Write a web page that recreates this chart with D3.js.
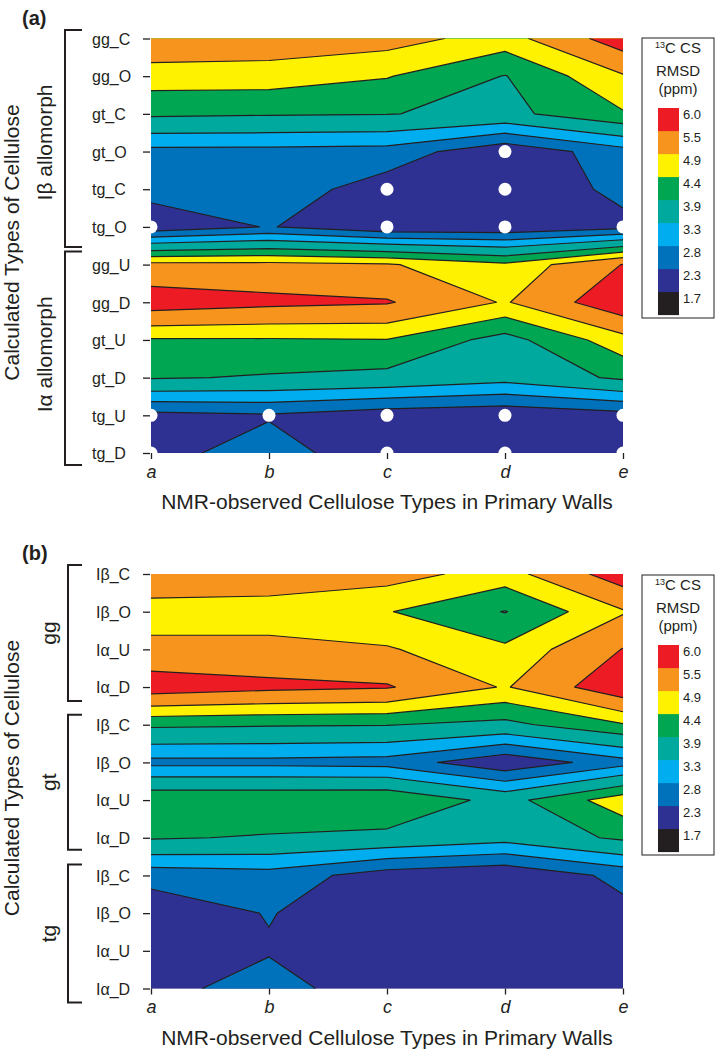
<!DOCTYPE html>
<html><head><meta charset="utf-8">
<script src="https://cdn.jsdelivr.net/npm/d3@7"></script>
<style>
body{margin:0;background:#fff}
svg{display:block}
text{font-family:"Liberation Sans",Arial,Helvetica,sans-serif;fill:#231f20}
</style>
</head><body>
<svg id="chart" width="716" height="1050"></svg>
<script>
// ---------------- DATA ----------------
const columns = ["a", "b", "c", "d", "e"];
// 13C chemical-shift RMSD (ppm) of each calculated cellulose type vs. observed types a..e
const gg_C = [5.35, 5.25, 5.12, 4.67, 5.83];
const gg_O = [4.65, 4.65, 4.43, 3.88, 4.85];
const gt_C = [4.00, 3.95, 3.92, 3.75, 4.35];
const gt_O = [2.65, 2.65, 2.60, 1.90, 2.60];
const tg_C = [2.49, 2.60, 2.04, 1.85, 2.45];
const tg_O = [1.96, 2.33, 1.90, 1.90, 2.15];
const gg_U = [5.05, 5.05, 4.95, 4.50, 5.52];
const gg_D = [5.83, 5.65, 5.55, 4.85, 5.95];
const gt_U = [4.35, 4.35, 4.38, 3.70, 4.70];
const gt_D = [3.95, 3.85, 3.75, 3.50, 4.00];
const tg_U = [2.15, 2.25, 2.00, 1.90, 2.10];
const tg_D = [2.10, 2.56, 1.90, 1.90, 2.10];

// row order (top to bottom) and tick labels for each panel
const rowsA = ["gg_C","gg_O","gt_C","gt_O","tg_C","tg_O","gg_U","gg_D","gt_U","gt_D","tg_U","tg_D"];
const labelsA = ["gg_C","gg_O","gt_C","gt_O","tg_C","tg_O","gg_U","gg_D","gt_U","gt_D","tg_U","tg_D"];
const rowsB = ["gg_C","gg_O","gg_U","gg_D","gt_C","gt_O","gt_U","gt_D","tg_C","tg_O","tg_U","tg_D"];
const labelsB = ["Iβ_C","Iβ_O","Iα_U","Iα_D","Iβ_C","Iβ_O","Iα_U","Iα_D","Iβ_C","Iβ_O","Iα_U","Iα_D"];
const groupsA = ["Iβ allomorph", "Iα allomorph"];
const groupsB = ["gg", "gt", "tg"];

// best-matching structures (white dots) in panel (a): [column, row]
const bestMatches = [["d","gt_O"],["c","tg_C"],["d","tg_C"],
  ["a","tg_O"],["c","tg_O"],["d","tg_O"],["e","tg_O"],
  ["a","tg_U"],["b","tg_U"],["c","tg_U"],["d","tg_U"],["e","tg_U"],
  ["a","tg_D"],["c","tg_D"],["d","tg_D"],["e","tg_D"]];

// colour scale (legend): labels and colours bottom->top
const levelLabels = [1.7, 2.3, 2.8, 3.3, 3.9, 4.4, 4.9, 5.5, 6.0];
const levelColors = ["#231f20","#2e3192","#0072bc","#00aeef","#00a99d","#00a651","#fff200","#f7941d","#ed1c24"];

const xTitle = "NMR-observed Cellulose Types in Primary Walls";
const yTitle = "Calculated Types of Cellulose";

// ---------------- DRAW ----------------
const series = {gg_C, gg_O, gt_C, gt_O, tg_C, tg_O, gg_U, gg_D, gt_U, gt_D, tg_U, tg_D};
const svg = d3.select("#chart");
const X0 = 151, X1 = 623, PH = 414.5;

function drawPanel(p) {
  const g = svg.append("g");
  const top = p.top, bottom = p.top + PH;
  const x = d3.scalePoint().domain(columns).range([X0, X1]);
  const y = d3.scalePoint().domain(p.rows).range([top, bottom]);
  const nx = columns.length, ny = p.rows.length;
  const gx = d3.scaleLinear().domain([0.5, nx - 0.5]).range([X0, X1]);
  const gy = d3.scaleLinear().domain([0.5, ny - 0.5]).range([top, bottom]);
  const values = p.rows.flatMap(r => series[r]);
  const levels = levelLabels.slice(0, levelLabels.length - 1);
  const contours = d3.contours().size([nx, ny]).thresholds(levels)(values);
  const path = d3.geoPath(d3.geoTransform({
    point(px, py) { this.stream.point(gx(px), gy(py)); }
  }));
  const clipId = "clip" + p.id;
  svg.append("clipPath").attr("id", clipId)
    .append("rect").attr("x", X0).attr("y", top).attr("width", X1 - X0).attr("height", PH);
  const plot = g.append("g").attr("clip-path", `url(#${clipId})`);
  plot.append("rect").attr("x", X0).attr("y", top).attr("width", X1 - X0).attr("height", PH)
    .attr("fill", levelColors[0]);
  plot.selectAll("path.fill").data(contours).join("path").attr("class", "fill")
    .attr("d", path).attr("fill", (d, i) => levelColors[i + 1]);
  plot.selectAll("path.line").data(contours).join("path").attr("class", "line")
    .attr("d", path).attr("fill", "none").attr("stroke", "#231f20")
    .attr("stroke-width", 1.2).attr("stroke-linejoin", "round");

  if (p.dots) {
    g.selectAll("circle.dot").data(p.dots).join("circle").attr("class", "dot")
      .attr("cx", d => x(d[0])).attr("cy", d => y(d[1])).attr("r", 6.5).attr("fill", "#fff");
  }

  // left axis
  const yAxis = g.append("g").attr("transform", `translate(${X0 - 1},0)`)
    .call(d3.axisLeft(y).tickSize(7).tickSizeOuter(0).tickFormat((d, i) => p.labels[i]));
  yAxis.select(".domain").remove();
  yAxis.selectAll("line").attr("stroke", "#231f20").attr("stroke-width", 1.3);
  yAxis.selectAll("text").attr("text-anchor", "start").attr("x", p.labelX - X0)
    .attr("dy", "0.36em").style("font-size", "16px").attr("fill", "#231f20");

  // bottom axis
  const xAxis = g.append("g").attr("transform", `translate(0,${bottom})`)
    .call(d3.axisBottom(x).tickSize(6).tickSizeOuter(0));
  xAxis.select(".domain").remove();
  xAxis.selectAll("line").attr("stroke", "#231f20").attr("stroke-width", 1.3);
  xAxis.selectAll("text").attr("y", 12).attr("dy", "0.71em")
    .style("font-size", "18px").style("font-style", "italic").attr("fill", "#231f20");

  // titles
  g.append("text").attr("x", 387).attr("y", bottom + 56).attr("text-anchor", "middle")
    .style("font-size", "21px").text(xTitle);
  g.append("text").attr("transform", `translate(19,${top + 204}) rotate(-90)`)
    .attr("text-anchor", "middle").style("font-size", "21px").text(yTitle);
  g.append("text").attr("x", 22).attr("y", top - 14).style("font-size", "20px")
    .style("font-weight", "bold").text(p.tag);

  // brackets
  p.groups.forEach((grp, i) => {
    const y0 = y(p.rows[grp.from]) - grp.padTop, y1 = y(p.rows[grp.to]) + grp.padBottom;
    g.append("path").attr("d", `M82,${y0}H${p.bx}V${y1}H82`).attr("fill", "none")
      .attr("stroke", "#231f20").attr("stroke-width", 2);
    g.append("text").attr("transform", `translate(${p.gx},${(y0 + y1) / 2 + grp.shift}) rotate(-90)`)
      .attr("text-anchor", "middle").style("font-size", "21px").text(grp.name);
  });

  // legend
  const lx = 642, ly = p.legendTop;
  const lg = g.append("g");
  lg.append("rect").attr("x", lx).attr("y", ly).attr("width", 72).attr("height", 280)
    .attr("fill", "#fff").attr("stroke", "#231f20").attr("stroke-width", 1);
  const t1 = lg.append("text").attr("x", 678).attr("y", ly + 15).attr("text-anchor", "middle")
    .style("font-size", "15px");
  t1.append("tspan").style("font-size", "9px").attr("dy", "-5").text("13");
  t1.append("tspan").attr("dy", "5").text("C CS");
  lg.append("text").attr("x", 678).attr("y", ly + 38).attr("text-anchor", "middle")
    .style("font-size", "15px").text("RMSD");
  lg.append("text").attr("x", 678).attr("y", ly + 56).attr("text-anchor", "middle")
    .style("font-size", "15px").text("(ppm)");
  const n = levelLabels.length;
  const sw = lg.selectAll("g.sw").data(levelLabels).join("g").attr("class", "sw");
  sw.append("rect").attr("x", 658).attr("width", 21).attr("height", 23.1)
    .attr("y", (d, i) => ly + 70 + (n - 1 - i) * 23).attr("fill", (d, i) => levelColors[i]);
  sw.append("text").attr("x", 683).attr("y", (d, i) => ly + 70 + (n - 1 - i) * 23 + 11)
    .style("font-size", "13px").text(d => d.toFixed(1));
}

drawPanel({
  id: "A", tag: "(a)", top: 38.5, rows: rowsA, labels: labelsA, labelX: 93,
  dots: bestMatches, legendTop: 38, bx: 65, gx: 52,
  groups: [
    {name: groupsA[0], from: 0, to: 5, padTop: 8.5, padBottom: 20, shift: 4},
    {name: groupsA[1], from: 6, to: 11, padTop: 13, padBottom: 12, shift: -4}
  ]
});
drawPanel({
  id: "B", tag: "(b)", top: 574, rows: rowsB, labels: labelsB, labelX: 97,
  dots: null, legendTop: 575, bx: 68, gx: 56,
  groups: [
    {name: groupsB[0], from: 0, to: 3, padTop: 9, padBottom: 14, shift: 0},
    {name: groupsB[1], from: 4, to: 7, padTop: 10, padBottom: 12, shift: 0},
    {name: groupsB[2], from: 8, to: 11, padTop: 11, padBottom: 14, shift: 0}
  ]
});
</script>
</body></html>
